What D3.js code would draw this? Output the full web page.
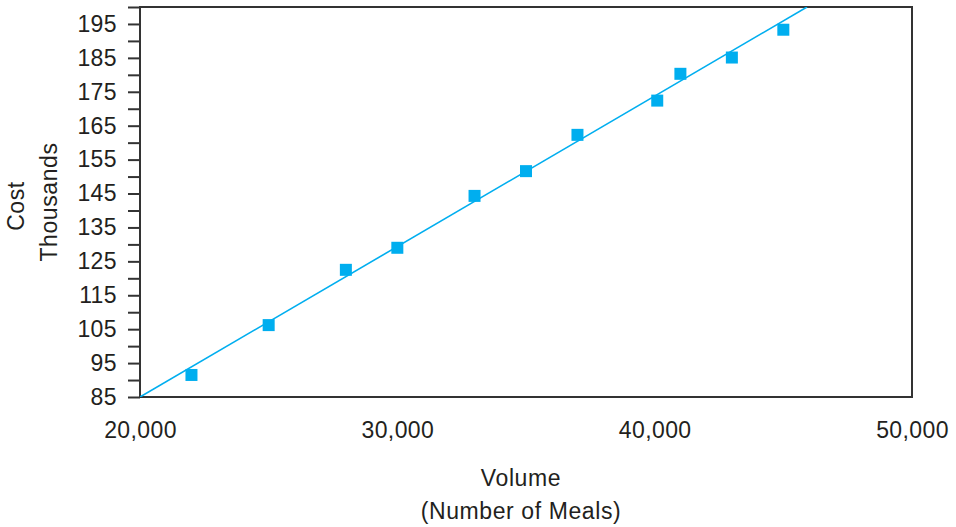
<!DOCTYPE html>
<html>
<head>
<meta charset="utf-8">
<script src="https://cdn.jsdelivr.net/npm/d3@7"></script>
<style>
  html, body { margin: 0; padding: 0; background: #fff; }
  svg { display: block; font-family: "Liberation Sans", Arial, Helvetica, sans-serif; }
  .tick text { font-size: 23px; fill: #231f20; letter-spacing: 0.4px; }
  .axis-label { font-size: 23px; fill: #231f20; letter-spacing: 0.6px; }
</style>
</head>
<body>
<div id="chart"></div>
<script>
// Meals served vs. cost (thousands)
const volume = [22000, 25000, 28000, 30000, 33000, 35000, 37000, 40100, 41000, 43000, 45000];
const cost   = [91.5, 106.2, 122.5, 129.0, 144.3, 151.6, 162.3, 172.4, 180.3, 185.1, 193.3];

// fitted line, end points
const fitVolume = [20000, 45920];
const fitCost   = [85, 200];

const yTicks  = d3.range(85, 201, 5);
const yLabels = d3.range(85, 200, 10);
const xTicks  = [20000, 30000, 40000, 50000];

const fullW = 956, fullH = 527;
const margin = { top: 7, right: 44, bottom: 130, left: 140 };
const W = fullW - margin.left - margin.right;
const H = fullH - margin.top - margin.bottom;
const blue = "#00aeef";

const svg = d3.select("#chart").append("svg")
  .attr("width", fullW)
  .attr("height", fullH);

const g = svg.append("g").attr("transform", `translate(${margin.left},${margin.top})`);

const x = d3.scaleLinear().domain([20000, 50000]).range([0, W]);
const y = d3.scaleLinear().domain([85, 200]).range([H, 0]);

// y axis: tick every 5, label every 10
const yAxisG = g.append("g")
  .call(d3.axisLeft(y).tickValues(yTicks).tickSize(12).tickPadding(11)
    .tickFormat(d => yLabels.includes(d) ? d : ""));
yAxisG.select(".domain").remove();
yAxisG.selectAll(".tick line").attr("stroke", "#333").attr("stroke-width", 2);

// x axis: labels only
const xAxisG = g.append("g")
  .attr("transform", `translate(0,${H})`)
  .call(d3.axisBottom(x).tickValues(xTicks).tickSize(0).tickPadding(25)
    .tickFormat(d3.format(",")));
xAxisG.select(".domain").remove();

// frame
g.append("rect")
  .attr("x", 0).attr("y", 0)
  .attr("width", W).attr("height", H)
  .attr("fill", "none")
  .attr("stroke", "#333")
  .attr("stroke-width", 2);

// fitted line, clipped to the plot
g.append("clipPath").attr("id", "plot-clip")
  .append("rect").attr("width", W).attr("height", H);

g.append("line")
  .attr("clip-path", "url(#plot-clip)")
  .attr("x1", x(fitVolume[0])).attr("y1", y(fitCost[0]))
  .attr("x2", x(fitVolume[1])).attr("y2", y(fitCost[1]))
  .attr("stroke", blue)
  .attr("stroke-width", 1.6);

// points
const sq = 12;
g.selectAll(".pt")
  .data(volume.map((v, i) => ({ v, c: cost[i] })))
  .enter().append("rect")
  .attr("class", "pt")
  .attr("x", d => x(d.v) - sq / 2)
  .attr("y", d => y(d.c) - sq / 2)
  .attr("width", sq)
  .attr("height", sq)
  .attr("fill", blue);

// axis titles
g.append("text")
  .attr("class", "axis-label")
  .attr("text-anchor", "middle")
  .attr("transform", `translate(${24 - margin.left},${H / 2 + 4}) rotate(-90)`)
  .text("Cost");

g.append("text")
  .attr("class", "axis-label")
  .attr("text-anchor", "middle")
  .attr("transform", `translate(${57 - margin.left},${H / 2}) rotate(-90)`)
  .text("Thousands");

g.append("text")
  .attr("class", "axis-label")
  .attr("text-anchor", "middle")
  .attr("x", W / 2 - 5)
  .attr("y", 486 - margin.top)
  .text("Volume");

g.append("text")
  .attr("class", "axis-label")
  .attr("text-anchor", "middle")
  .attr("x", W / 2 - 5)
  .attr("y", 519 - margin.top)
  .text("(Number of Meals)");
</script>
</body>
</html>
